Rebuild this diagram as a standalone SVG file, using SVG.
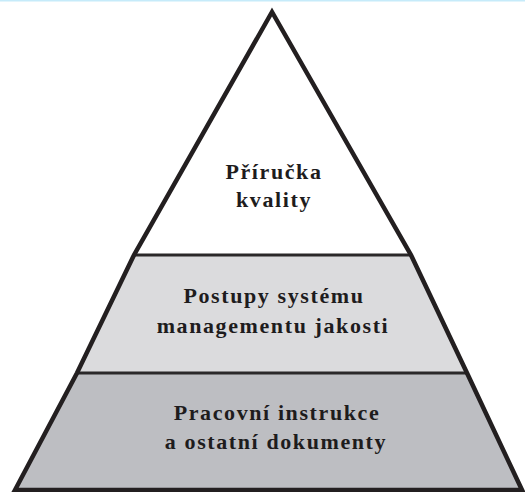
<svg xmlns="http://www.w3.org/2000/svg" width="525" height="492" viewBox="0 0 525 492">
  <style>
    .lbl { font-family: "Liberation Serif", "Times New Roman", serif; font-weight: bold; font-size: 22px; letter-spacing: 1.6px; fill: #1e1c1d; text-anchor: middle; }
    .sep { stroke: #2a2829; stroke-width: 3; fill: none; }
    .outline { stroke: #231f20; stroke-width: 4.5; fill: none; stroke-linejoin: miter; }
  </style>
  <rect x="0" y="0" width="525" height="492" fill="#ffffff"/>
  <rect x="0" y="0" width="525" height="1.5" fill="#c6ebfa"/>
  <g id="tier-top">
    <polygon points="272,12 411,255 134,255" fill="#ffffff"/>
    <text class="lbl" x="274" y="179">Příručka</text>
    <text class="lbl" x="274" y="207">kvality</text>
  </g>
  <g id="tier-middle">
    <polygon points="134,255 411,255 467,373 77,373" fill="#dbdbdd"/>
    <text class="lbl" x="274" y="303">Postupy systému</text>
    <text class="lbl" x="273" y="333">managementu jakosti</text>
  </g>
  <g id="tier-bottom">
    <polygon points="77,373 467,373 522,490 15,490" fill="#bdbec2"/>
    <text class="lbl" x="277" y="420">Pracovní instrukce</text>
    <text class="lbl" x="276" y="449">a ostatní dokumenty</text>
  </g>
  <g id="connectors">
    <line class="sep" x1="134" y1="255" x2="411" y2="255"/>
    <line class="sep" x1="77" y1="373" x2="467" y2="373" stroke-width="2.5"/>
    <path class="outline" d="M15,490 L77,373 L134,255 L272,12 L411,255 L467,373 L522,490 Z"/>
  </g>
</svg>
